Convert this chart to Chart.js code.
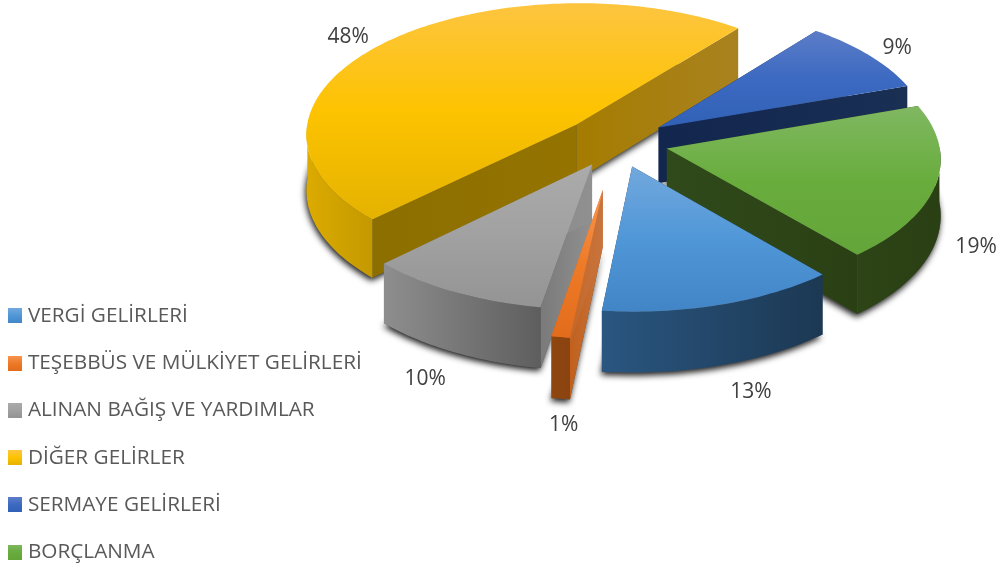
<!DOCTYPE html>
<html><head><meta charset="utf-8">
<style>html,body{margin:0;padding:0;background:#fff}canvas{display:block}</style>
<script src="https://cdn.jsdelivr.net/npm/chart.js@4"></script>
</head><body>
<canvas id="c" width="997" height="566"></canvas>
<script>
const categories = ["VERGİ GELİRLERİ","TEŞEBBÜS VE MÜLKİYET GELİRLERİ","ALINAN BAĞIŞ VE YARDIMLAR","DİĞER GELİRLER","SERMAYE GELİRLERİ","BORÇLANMA"];
const values = [13,1,10,48,9,19];
const explode = [52,97,52,54,52,52];
const FONT = '"Open Sans"';
const faceStops = [
  ['#72a8dd','#5097d8','#4285c6'],
  ['#f99650','#ee7b28','#e26c1c'],
  ['#ababab','#a1a1a1','#949494'],
  ['#fdc540','#fdc300','#e4b200'],
  ['#5c7dc8','#3c69c1','#3161b7'],
  ['#80b862','#69ad3d','#64a539']
];
const arcWall = [
  ['#2a5680','#1c3853'],['#8f4610','#8a4410'],['#8e8e8e','#5e5e5e'],
  ['#dcab00','#c49900'],['#12264e','#1a2f54'],['#2d4417','#2a4014']
];
const startWall = [
  ['#1c3853','#1c3853'],['#c0601c','#c8743e'],['#7a7a7a','#909090'],
  ['#8c6f00','#947300'],['#12264e','#12264e'],['#2d4417','#2d4417']
];
const endWall = [
  ['#1c3853','#1c3853'],['#c0601c','#c8743e'],['#7a7a7a','#909090'],
  ['#a57c00','#a98220'],['#12264e','#1a2f54'],['#304a1b','#2a4014']
];
const drawOrder = [3,4,5,0,2,1];
const labelShift = [[30,87],[3,88],[-29,87],[-39,-4],[28,-7],[40,63]];

const VIEW = {cx:616.5, cy:142, radius:272, tilt:0.485, persp:0.00025, depth:56};
function s(v){return 1/(1-VIEW.persp*v);}
function project(u,v,z){const k=s(v);return [VIEW.cx+u*k, VIEW.cy+VIEW.tilt*v*k+z*VIEW.depth*k];}

function sliceGeom(el){
  const p=el.getProps(['startAngle','endAngle'],true);
  const mid=(p.startAngle+p.endAngle)/2, e=el.options.offset||0;
  return {a0:p.startAngle,a1:p.endAngle,ou:e*Math.cos(mid),ov:e*Math.sin(mid),mid,e};
}
function rim(g,a){return [g.ou+VIEW.radius*Math.cos(a),g.ov+VIEW.radius*Math.sin(a)];}
function hGrad(ctx,x0,x1,cols){const gr=ctx.createLinearGradient(x0,0,Math.max(x1,x0+1),0);gr.addColorStop(0,cols[0]);gr.addColorStop(1,cols[1]);return gr;}
function poly(ctx,pts){ctx.beginPath();pts.forEach((q,i)=>i?ctx.lineTo(q[0],q[1]):ctx.moveTo(q[0],q[1]));ctx.closePath();}

function sector(g,z){
  const pts=[project(g.ou,g.ov,z)],n=Math.max(6,Math.ceil((g.a1-g.a0)/0.02));
  for(let i=0;i<=n;i++){const r=rim(g,g.a0+(g.a1-g.a0)*i/n);pts.push(project(r[0],r[1],z));}
  return pts;
}
function edgeWall(ctx,g,a,cols){
  const r=rim(g,a);
  const p0=project(g.ou,g.ov,0),p1=project(r[0],r[1],0),p2=project(r[0],r[1],1),p3=project(g.ou,g.ov,1);
  poly(ctx,[p0,p1,p2,p3]);
  ctx.fillStyle=hGrad(ctx,Math.min(p0[0],p1[0]),Math.max(p0[0],p1[0]),cols);
  ctx.fill();
}
function frontArc(ctx,g,cols){
  const top=[],bot=[],n=Math.max(6,Math.ceil((g.a1-g.a0)/0.02));
  for(let i=0;i<=n;i++){
    const a=g.a0+(g.a1-g.a0)*i/n;
    if(Math.sin(a)<-0.02)continue;
    const r=rim(g,a);top.push(project(r[0],r[1],0));bot.push(project(r[0],r[1],1));
  }
  if(top.length<2)return;
  const pts=top.concat(bot.reverse());
  const xs=pts.map(q=>q[0]);
  poly(ctx,pts);
  ctx.fillStyle=hGrad(ctx,Math.min(...xs),Math.max(...xs),cols);
  ctx.fill();
}

const pie3d={
  id:'pie3d',
  beforeDatasetDraw(chart,args){
    const ctx=chart.ctx,els=chart.getDatasetMeta(args.index).data;
    drawOrder.forEach(i=>{
      const g=sliceGeom(els[i]);
      ctx.save();
      ctx.shadowColor='rgba(0,0,0,0.9)';ctx.shadowBlur=6;ctx.shadowOffsetY=3;ctx.shadowOffsetX=-1;
      poly(ctx,sector(g,1));ctx.fillStyle='#555';ctx.fill();
      ctx.restore();
      edgeWall(ctx,g,g.a0,startWall[i]);
      edgeWall(ctx,g,g.a1,endWall[i]);
      frontArc(ctx,g,arcWall[i]);
      const topPts=sector(g,0),ys=topPts.map(q=>q[1]);
      const y0=Math.min(...ys),y1=Math.max(...ys);
      const gr=ctx.createLinearGradient(0,y0,0,y1);
      gr.addColorStop(0,faceStops[i][0]);gr.addColorStop(0.5,faceStops[i][1]);gr.addColorStop(1,faceStops[i][2]);
      poly(ctx,topPts);ctx.fillStyle=gr;ctx.fill();
    });
    return false;
  },
  afterDatasetsDraw(chart){
    const ctx=chart.ctx,els=chart.getDatasetMeta(0).data;
    ctx.save();
    ctx.font='21px '+FONT;ctx.fillStyle='#404040';ctx.textAlign='center';ctx.textBaseline='middle';
    els.forEach((el,i)=>{
      const g=sliceGeom(el),r=rim(g,g.mid),q=project(r[0],r[1],0);
      ctx.fillText(values[i]+'%',q[0]+labelShift[i][0],q[1]+labelShift[i][1]);
    });
    ctx.restore();
  }
};

function swatch(i){
  const cv=document.createElement('canvas');cv.width=14;cv.height=15;
  const c=cv.getContext('2d'),gr=c.createLinearGradient(0,0,0,15);
  gr.addColorStop(0,faceStops[i][0]);gr.addColorStop(0.5,faceStops[i][1]);gr.addColorStop(1,faceStops[i][2]);
  c.fillStyle=gr;c.fillRect(0,0,14,15);return cv;
}
const swatches=categories.map((_,i)=>swatch(i));

new Chart(document.getElementById('c'),{
  type:'pie',
  data:{labels:categories,datasets:[{data:values,offset:explode,backgroundColor:faceStops.map(f=>f[1]),borderWidth:0}]},
  plugins:[pie3d],
  options:{
    responsive:false,animation:false,rotation:139.3,
    layout:{padding:{left:-14,top:0,right:0,bottom:-23}},
    plugins:{
      tooltip:{enabled:false},
      legend:{
        position:'left',align:'end',
        labels:{
          font:{family:FONT,size:20.75},color:'#595959',
          usePointStyle:true,boxWidth:5,boxHeight:14,padding:26.5,
          generateLabels(chart){
            return categories.map((t,i)=>({text:t,fontColor:'#595959',fillStyle:faceStops[i][1],strokeStyle:faceStops[i][1],lineWidth:0,pointStyle:swatches[i],index:i,hidden:false}));
          }
        }
      }
    }
  }
});
</script>
</body></html>
